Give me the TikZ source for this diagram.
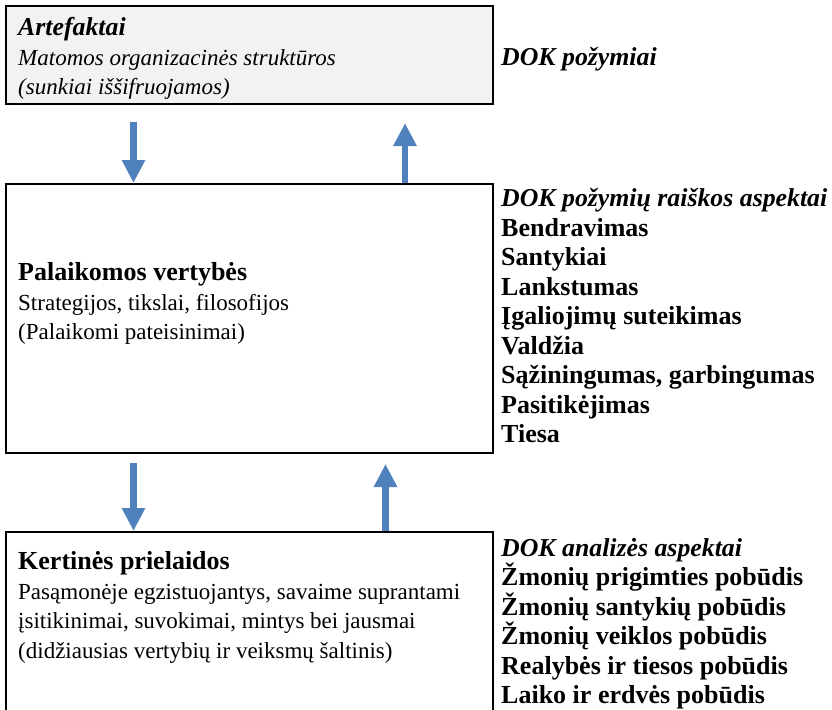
\documentclass[tikz,border=0pt]{standalone}
\usepackage{fontspec}
\setmainfont{Liberation Serif}
\usetikzlibrary{arrows.meta}
\definecolor{arrblue}{HTML}{4F81BD}
\definecolor{boxgray}{HTML}{F2F2F2}
\newcommand{\bigbf}{\fontsize{26}{29.5}\selectfont\bfseries}
\newcommand{\headbi}{\fontsize{25.8}{29.5}\selectfont\bfseries\itshape}
\begin{document}
\begin{tikzpicture}[x=1pt,y=-1pt,
  box/.style={draw=black, line width=2pt, anchor=north west, inner sep=0pt},
  txt/.style={anchor=north west, align=left, inner sep=0pt, font=\fontsize{23}{29.5}\selectfont},
  blockarrow/.style={draw=arrblue, line width=6.5pt, line cap=butt, -{Triangle[width=22pt,length=23pt]}}]
\useasboundingbox (0,0) rectangle (832,709);
\clip (0,0) rectangle (832,709);
% boxes
\node[box, fill=boxgray, minimum width=487pt, minimum height=98pt] (art) at (5,5) {};
\node[box, minimum width=487pt, minimum height=269pt] (val) at (5,183) {};
\node[box, minimum width=487pt, minimum height=260pt] (ass) at (5,531) {};
% left texts
\node[txt] (artT) at (18,17.6) {{\headbi Artefaktai}\\ \textit{Matomos organizacinės struktūros}\\ \textit{(sunkiai iššifruojamos)}};
\node[txt] (valT) at (18,262.6) {{\bigbf Palaikomos vertybės}\\ Strategijos, tikslai, filosofijos\\ (Palaikomi pateisinimai)};
\node[txt] (assT) at (18,551.6) {{\bigbf Kertinės prielaidos}\\ Pasąmonėje egzistuojantys, savaime suprantami\\ įsitikinimai, suvokimai, mintys bei jausmai\\ (didžiausias vertybių ir veiksmų šaltinis)};
% right texts
\node[txt] (dokT) at (501,47.6) {{\headbi DOK požymiai}};
\node[txt] (rasT) at (501,188.5) {{\headbi DOK požymių raiškos aspektai}\\ {\bigbf Bendravimas}\\ {\bigbf Santykiai}\\ {\bigbf Lankstumas}\\ {\bigbf Įgaliojimų suteikimas}\\ {\bigbf Valdžia}\\ {\bigbf Sąžiningumas, garbingumas}\\ {\bigbf Pasitikėjimas}\\ {\bigbf Tiesa}};
\node[txt] (anaT) at (501,537.6) {{\headbi DOK analizės aspektai}\\ {\bigbf Žmonių prigimties pobūdis}\\ {\bigbf Žmonių santykių pobūdis}\\ {\bigbf Žmonių veiklos pobūdis}\\ {\bigbf Realybės ir tiesos pobūdis}\\ {\bigbf Laiko ir erdvės pobūdis}};
% arrows
\coordinate (d1) at (133.5,122);
\coordinate (u1) at (405,123);
\coordinate (d2) at (133.5,463);
\coordinate (u2) at (385.5,464);
\draw[blockarrow] (d1) -- (d1 |- val.north);
\draw[blockarrow] (val.north -| u1) -- (u1);
\draw[blockarrow] (d2) -- (d2 |- ass.north);
\draw[blockarrow] (ass.north -| u2) -- (u2);
\end{tikzpicture}
\end{document}
